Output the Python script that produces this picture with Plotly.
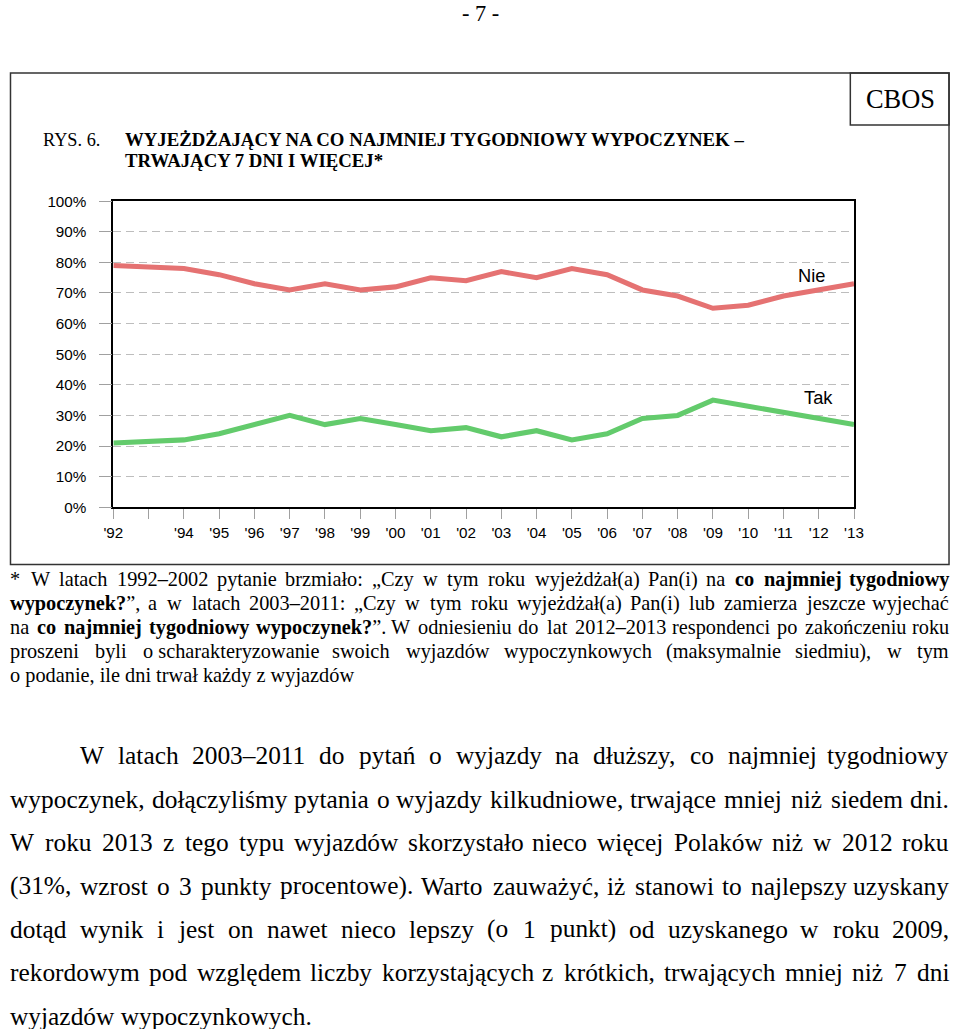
import plotly.graph_objects as go

# ---------------- data ----------------
years = [1992, 1994, 1995, 1996, 1997, 1998, 1999, 2000, 2001, 2002, 2003,
         2004, 2005, 2006, 2007, 2008, 2009, 2010, 2011, 2012, 2013]
nie = [79, 78, 76, 73, 71, 73, 71, 72, 75, 74, 77, 75, 78, 76, 71, 69, 65, 66, 69, 71, 73]
tak = [21, 22, 24, 27, 30, 27, 29, 27, 25, 26, 23, 25, 22, 24, 29, 30, 35, 33, 31, 29, 27]
tick_years = list(range(1992, 2014))
tick_labels = ["'92", "", "'94", "'95", "'96", "'97", "'98", "'99", "'00", "'01", "'02",
               "'03", "'04", "'05", "'06", "'07", "'08", "'09", "'10", "'11", "'12", "'13"]
y_ticks = [0, 10, 20, 30, 40, 50, 60, 70, 80, 90, 100]
y_labels = [f"{v}%" for v in y_ticks]
series_names = ["Nie", "Tak"]

page_no = "- 7 -"
fig_label = "RYS. 6."
title_lines = ["WYJEŻDŻAJĄCY NA CO NAJMNIEJ TYGODNIOWY WYPOCZYNEK –",
               "TRWAJĄCY 7 DNI I WIĘCEJ*"]
source = "CBOS"

footnote_lines = [
    "* W latach 1992–2002 pytanie brzmiało: „Czy w tym roku wyjeżdżał(a) Pan(i) na <b>co najmniej tygodniowy</b>",
    "<b>wypoczynek?</b>”, a w latach 2003–2011: „Czy w tym roku wyjeżdżał(a) Pan(i) lub zamierza jeszcze wyjechać",
    "na <b>co najmniej tygodniowy wypoczynek?</b>”. W odniesieniu do lat 2012–2013 respondenci po zakończeniu roku",
    "proszeni byli o\u00a0scharakteryzowanie swoich wyjazdów wypoczynkowych (maksymalnie siedmiu), w tym",
    "o podanie, ile dni trwał każdy z wyjazdów",
]
body_lines = [
    "W latach 2003–2011 do pytań o wyjazdy na dłuższy, co najmniej tygodniowy",
    "wypoczynek, dołączyliśmy pytania o\u00a0wyjazdy kilkudniowe, trwające mniej niż siedem dni.",
    "W roku 2013 z tego typu wyjazdów skorzystało nieco więcej Polaków niż w 2012 roku",
    "(31%, wzrost o 3 punkty procentowe). Warto zauważyć, iż stanowi to najlepszy uzyskany",
    "dotąd wynik i jest on nawet nieco lepszy (o 1 punkt) od uzyskanego w roku 2009,",
    "rekordowym pod względem liczby korzystających z krótkich, trwających mniej niż 7 dni",
    "wyjazdów wypoczynkowych.",
]

# ---------------- geometry helpers ----------------
W, H = 960, 1029
# the captured picture shows the page with an 8px pad and a slight downscale;
# positions below are given in picture pixels and converted to page pixels.
SX, SY = 960 / 976, 1029 / 1045
K = (1 / SX + 1 / SY) / 2           # font / width scale

def pgx(x):
    return min(max(x / SX - 8, 0.5), W - 1)
def pgy(y):
    return min(max(y / SY - 8, 0.5), H - 1)
def px(x):
    return pgx(x) / W
def py(y):
    return 1 - pgy(y) / H

REG = {' ': 250, '\u00a0': 250, '!': 333, '%': 833, "'": 180, '(': 333, ')': 333, '*': 500,
       ',': 250, '-': 333, '.': 250, '/': 278, ':': 278, ';': 278, '?': 444,
       '–': 500, '„': 444, '”': 444,
       'A': 722, 'B': 667, 'C': 667, 'D': 722, 'E': 611, 'F': 556, 'G': 722, 'H': 722,
       'I': 333, 'J': 389, 'K': 722, 'L': 611, 'M': 889, 'N': 722, 'O': 722, 'P': 556,
       'Q': 722, 'R': 667, 'S': 556, 'T': 611, 'U': 722, 'V': 722, 'W': 944, 'X': 722,
       'Y': 722, 'Z': 611,
       'a': 444, 'b': 500, 'c': 444, 'd': 500, 'e': 444, 'f': 333, 'g': 500, 'h': 500,
       'i': 278, 'j': 278, 'k': 500, 'l': 278, 'm': 778, 'n': 500, 'o': 500, 'p': 500,
       'q': 500, 'r': 333, 's': 389, 't': 278, 'u': 500, 'v': 500, 'w': 722, 'x': 500,
       'y': 500, 'z': 444}
BOLD = {' ': 250, '\u00a0': 250, '%': 1000, '(': 333, ')': 333, ',': 250, '.': 250,
        ':': 333, '?': 500, '–': 500, '*': 500, '„': 500, '”': 500,
        'A': 722, 'B': 667, 'C': 722, 'D': 722, 'E': 667, 'F': 611, 'G': 778, 'H': 778,
        'I': 389, 'J': 500, 'K': 778, 'L': 667, 'M': 944, 'N': 722, 'O': 778, 'P': 611,
        'Q': 778, 'R': 722, 'S': 556, 'T': 667, 'U': 722, 'V': 722, 'W': 1000, 'X': 722,
        'Y': 722, 'Z': 667,
        'a': 500, 'b': 556, 'c': 444, 'd': 556, 'e': 444, 'f': 333, 'g': 500, 'h': 556,
        'i': 278, 'j': 333, 'k': 556, 'l': 278, 'm': 833, 'n': 556, 'o': 500, 'p': 556,
        'q': 556, 'r': 444, 's': 389, 't': 333, 'u': 556, 'v': 500, 'w': 722, 'x': 500,
        'y': 500, 'z': 444}
DIA = {'ą': 'a', 'ć': 'c', 'ę': 'e', 'ł': 'l', 'ń': 'n', 'ó': 'o', 'ś': 's', 'ź': 'z',
       'ż': 'z', 'Ą': 'A', 'Ć': 'C', 'Ę': 'E', 'Ł': 'L', 'Ń': 'N', 'Ó': 'O', 'Ś': 'S',
       'Ź': 'Z', 'Ż': 'Z'}

def run_width(text, bold, size):
    tbl = BOLD if bold else REG
    return sum(tbl.get(DIA.get(ch, ch), 500) for ch in text) * size / 1000

def parse_tokens(line):
    tokens = []
    bold = False
    for word in line.split(' '):
        runs = []
        rest = word
        while rest:
            if rest.startswith('<b>'):
                bold = True
                rest = rest[3:]
                continue
            if rest.startswith('</b>'):
                bold = False
                rest = rest[4:]
                continue
            cand = [i for i in (rest.find('<b>'), rest.find('</b>')) if i >= 0]
            idx = min(cand) if cand else len(rest)
            runs.append((rest[:idx], bold))
            rest = rest[idx:]
        tokens.append(runs)
    return tokens

def token_html(runs):
    return ''.join(f'<b>{t}</b>' if b else t for t, b in runs)

annots = []

def page_annot(text, xpage, ypage_paper, size, family, anchor='left'):
    annots.append(dict(text=text, x=xpage / W, y=ypage_paper, xref='paper', yref='paper',
                       xanchor=anchor, yanchor='middle', showarrow=False,
                       font=dict(family=family, size=size, color='black'),
                       borderpad=0, borderwidth=0))

def text_annot(text, x, y, size, family, anchor='left'):
    page_annot(text, pgx(x), py(y), size * K, family, anchor)

def add_line(line, left, right, yc, size, justify, family):
    size = size * K
    L, R = pgx(left), pgx(right)
    if not justify:
        page_annot(line, L, py(yc), size, family)
        return
    toks = parse_tokens(line)
    widths = [sum(run_width(t, b, size) for t, b in r) for r in toks]
    gap = (R - L - sum(widths)) / (len(toks) - 1)
    x = L
    for i, (r, w) in enumerate(zip(toks, widths)):
        if i == len(toks) - 1:
            page_annot(token_html(r), R, py(yc), size, family, anchor='right')
        else:
            page_annot(token_html(r), x, py(yc), size, family)
        x += w + gap

SERIF = "Liberation Serif"
SANS = "Liberation Sans"

# ---------------- figure ----------------
fig = go.Figure()
fig.add_trace(go.Scatter(x=years, y=nie, mode='lines', name=series_names[0],
                         line=dict(color='#E57272', width=5 * K)))
fig.add_trace(go.Scatter(x=years, y=tak, mode='lines', name=series_names[1],
                         line=dict(color='#63CB6C', width=5 * K)))

fig.update_layout(
    width=W, height=H, autosize=False,
    margin=dict(l=0, r=0, t=0, b=0),
    paper_bgcolor='white', plot_bgcolor='white',
    showlegend=False,
    xaxis=dict(domain=[px(111.7), px(855.7)], range=[1992, 2013],
               tickmode='array', tickvals=tick_years, ticktext=tick_labels,
               ticks='outside', ticklen=10 * K, tickcolor='#a0a0a0', tickwidth=1,
               ticklabelstandoff=1,
               showline=True, linecolor='black', linewidth=1.5, mirror=True,
               showgrid=False, zeroline=False,
               tickfont=dict(family=SANS, size=15 * K, color='black')),
    yaxis=dict(domain=[py(506.7), py(200.3)], range=[0, 100],
               tickmode='array', tickvals=y_ticks, ticktext=y_labels,
               ticks='outside', ticklen=12 * K, tickcolor='#a0a0a0', tickwidth=1,
               ticklabelstandoff=10,
               showline=True, linecolor='black', linewidth=1.5, mirror=True,
               showgrid=True, gridcolor='#bdbdbd', griddash='8px,5px', gridwidth=1,
               zeroline=False,
               tickfont=dict(family=SANS, size=15 * K, color='black')),
)

# series labels
annots.append(dict(text=series_names[0], x=2011.8, y=75.6, xref='x', yref='y',
                   showarrow=False, font=dict(family=SANS, size=18 * K, color='black')))
annots.append(dict(text=series_names[1], x=2012.0, y=35.8, xref='x', yref='y',
                   showarrow=False, font=dict(family=SANS, size=18 * K, color='black')))

# page number, titles
text_annot(page_no, 480, 12, 22, SERIF, anchor='center')
text_annot(fig_label, 41, 139, 18, SERIF)
text_annot(f"<b>{title_lines[0]}</b>", 123, 139, 18.5, SERIF)
text_annot(f"<b>{title_lines[1]}</b>", 123, 160, 18.5, SERIF)
text_annot(source, 902, 98, 26, SERIF, anchor='center')

# footnote
fn_y = [579, 603, 627, 651, 675]
for i, (ln, yy) in enumerate(zip(footnote_lines, fn_y)):
    add_line(ln, 4, 955, yy, 20, i < len(footnote_lines) - 1, SERIF)

# body paragraph
body_y = [755, 798.5, 842, 885.5, 929, 972.5, 1016]
for i, (ln, yy) in enumerate(zip(body_lines, body_y)):
    add_line(ln, 78 if i == 0 else 4, 955, yy, 25, i < len(body_lines) - 1, SERIF)

fig.update_layout(annotations=annots)

# frames
fig.add_shape(type='rect', xref='paper', yref='paper', x0=px(4), x1=px(957),
              y0=py(564), y1=py(72), line=dict(color='#333333', width=1.5))
fig.add_shape(type='rect', xref='paper', yref='paper', x0=px(852), x1=px(957),
              y0=py(124), y1=py(72), line=dict(color='#333333', width=1.5))

fig.write_html("out.html",
               config={'responsive': False, 'displayModeBar': False},
               post_script="document.body.style.margin='0';document.body.style.overflow='hidden';")
